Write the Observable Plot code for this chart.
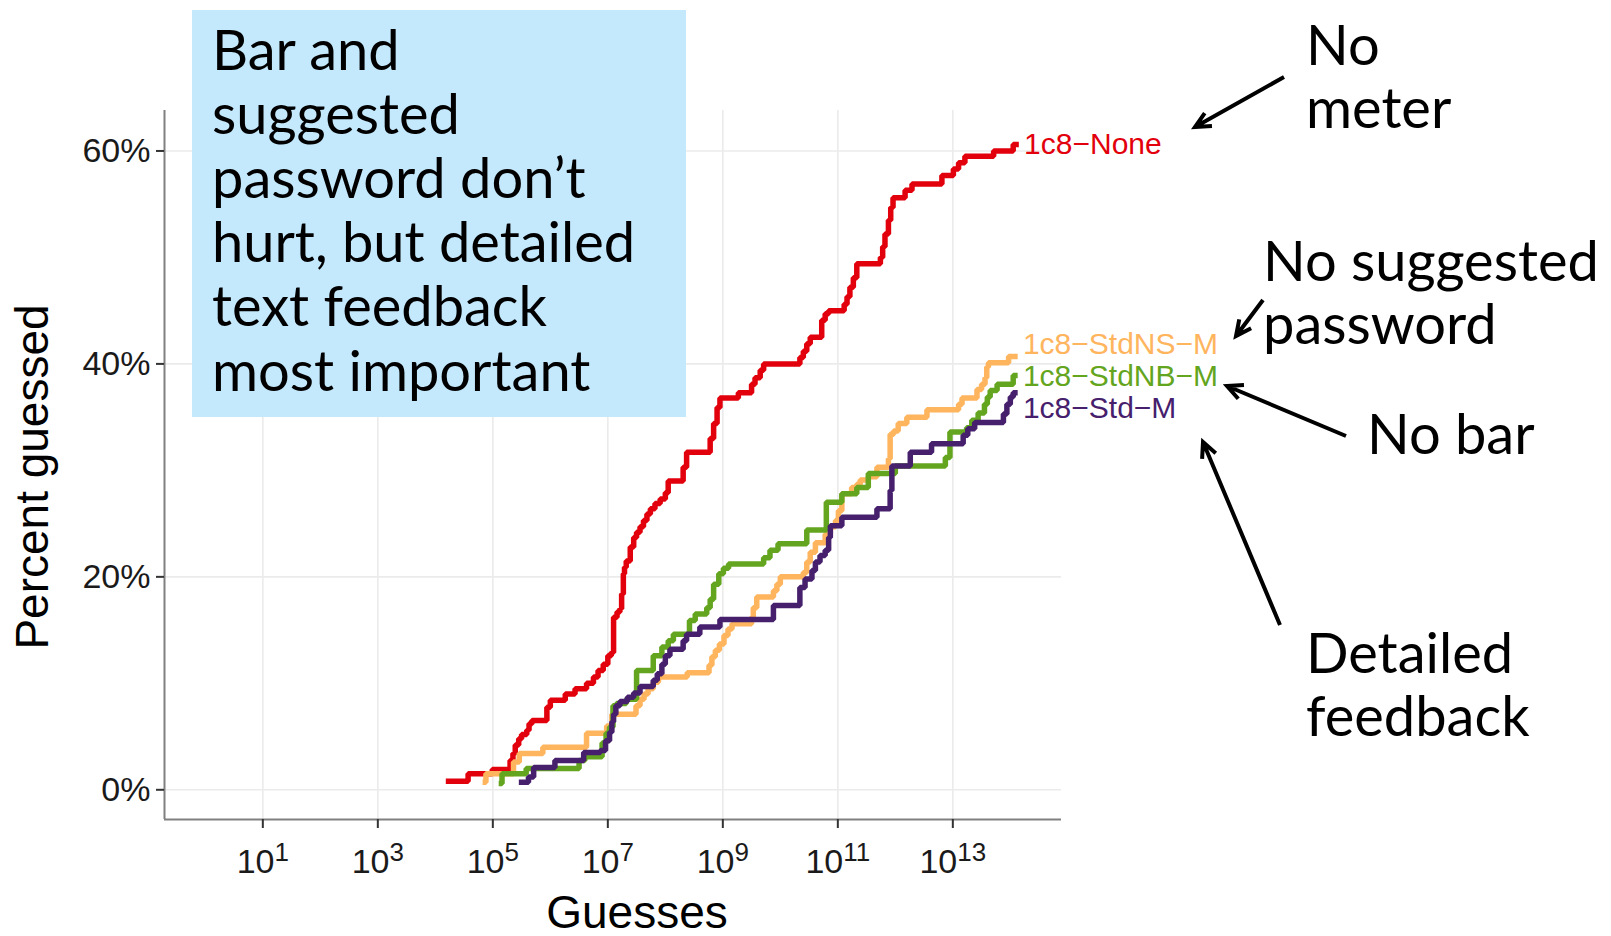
<!DOCTYPE html>
<html><head><meta charset="utf-8">
<script src="https://cdn.jsdelivr.net/npm/d3@7"></script>
<script src="https://cdn.jsdelivr.net/npm/@observablehq/plot@0.6"></script>
<style>
body{margin:0;background:#fff;}
#wrap{position:relative;width:1611px;height:936px;overflow:hidden;background:#fff;}
#chart{position:absolute;left:0;top:0;}
#over{position:absolute;left:0;top:0;pointer-events:none;}
</style></head><body>
<div id="wrap"><div id="chart"></div><svg id="over" width="1611" height="936"></svg></div>
<script>
// ---- data (x as log10 of guesses, y as percent guessed) ----
const series = ["1c8\u2212None", "1c8\u2212StdNS\u2212M", "1c8\u2212StdNB\u2212M", "1c8\u2212Std\u2212M"];
const colors = ["#e2000c", "#ffb45e", "#64a520", "#46206c"];
const labelPct = [60.6, 41.8, 38.8, 35.8];

const noneExp = [4.23,4.57,4.99,5.30,5.35,5.39,5.45,5.50,5.59,5.63,5.68,5.94,6.00,6.26,6.43,6.63,6.75,6.83,6.92,7.00,7.06,7.10,7.16,7.21,7.24,7.27,7.29,7.32,7.39,7.45,7.50,7.56,7.62,7.68,7.74,7.82,7.91,8.00,8.05,8.31,8.37,8.78,8.84,8.90,8.95,9.27,9.50,9.56,9.65,9.71,10.34,10.40,10.46,10.52,10.72,10.78,10.84,11.11,11.16,11.21,11.27,11.33,11.74,11.78,11.82,11.88,11.92,11.96,12.17,12.29,12.81,13.01,13.10,13.21,13.71,14.05,14.10];
const nonePct = [0.8,1.5,1.9,2.75,3.4,4.2,4.8,5.2,5.6,6.2,6.5,7.75,8.4,9.0,9.5,10.0,10.6,11.2,11.8,12.6,12.9,16.2,16.7,17.0,18.4,20.3,20.9,21.5,22.8,23.7,24.2,24.7,25.3,25.9,26.4,26.9,27.3,27.9,29.0,30.3,31.7,33.0,34.4,35.9,36.8,37.3,38.1,38.7,39.4,40.0,40.6,41.2,41.9,42.5,44.1,44.7,45.0,45.6,46.3,47.2,48.1,49.4,50.0,51.0,52.2,53.5,54.7,55.6,56.3,56.9,57.7,58.3,58.9,59.5,60.0,60.6,60.6];

const nsExp = [4.87,4.88,5.36,5.46,5.87,6.63,6.98,7.07,7.49,7.56,7.63,7.70,7.79,7.88,8.38,8.76,8.81,8.87,8.94,9.02,9.09,9.16,9.50,9.53,9.59,9.88,9.94,10.00,10.40,10.46,10.52,10.61,10.78,10.87,10.96,11.01,11.07,11.24,11.33,11.39,11.53,11.68,11.88,11.91,11.97,12.05,12.20,12.55,13.10,13.16,13.42,13.50,13.56,13.59,13.62,13.97,14.08];
const nsPct = [0.7,1.5,2.6,3.4,4.0,5.3,6.0,7.1,7.9,8.5,9.0,9.5,10.1,10.6,11.0,11.7,12.5,13.1,13.7,14.5,15.1,15.6,16.2,17.1,18.1,18.7,19.3,20.0,20.4,21.4,22.3,23.2,24.0,24.7,25.3,26.2,27.8,28.4,28.7,29.1,29.4,30.3,31.1,33.4,33.7,34.4,35.0,35.7,36.2,36.8,37.6,38.1,38.7,39.7,40.1,40.7,40.7];

const nbExp = [5.15,5.16,5.58,6.50,6.60,6.90,6.97,7.03,7.09,7.15,7.32,7.50,7.79,7.94,8.05,8.14,8.42,8.52,8.72,8.78,8.84,8.93,9.01,9.10,9.71,9.82,9.96,10.46,10.80,11.07,11.33,11.53,12.00,12.87,12.95,13.24,13.33,13.44,13.55,13.60,13.65,13.77,14.05,14.08];
const nbPct = [0.6,1.5,2.0,2.75,3.1,4.4,5.3,5.9,7.9,8.1,8.5,11.2,12.6,13.4,14.0,14.6,15.9,16.5,17.1,17.9,19.3,20.3,20.8,21.2,21.8,22.5,23.1,24.4,27.0,27.8,28.4,29.7,30.4,31.2,33.6,34.0,34.7,35.4,36.2,36.9,37.5,38.1,38.9,38.9];

const stdExp = [5.50,5.62,5.71,6.08,6.58,6.87,6.96,7.03,7.07,7.10,7.14,7.21,7.34,7.45,7.56,7.79,7.86,7.94,8.00,8.08,8.31,8.37,8.60,8.95,9.88,10.34,10.43,10.55,10.61,10.69,10.78,10.84,10.87,11.07,11.68,11.91,11.94,12.26,12.63,13.18,13.26,13.38,13.88,13.94,14.00,14.05,14.08];
const stdPct = [0.7,1.2,2.1,2.75,3.5,3.7,4.6,5.4,6.4,7.1,7.9,8.3,8.7,9.1,9.7,10.3,10.9,11.8,12.6,13.2,14.0,14.6,15.3,16.0,17.3,19.0,19.8,20.6,21.4,22.0,22.5,23.7,24.8,25.6,26.4,28.1,30.4,31.7,32.5,33.3,33.9,34.5,35.3,36.2,36.9,37.3,37.3];

const xTickExp = [1, 3, 5, 7, 9, 11, 13];
const yTicks = [0, 20, 40, 60];
const xDomainExp = [-0.71, 14.89];
const yDomain = [-2.79, 63.8];

const textBox = ["Bar and", "suggested", "password don\u2019t", "hurt, but detailed", "text feedback", "most important"];
const notes = [
  {lines: ["No", "meter"]},
  {lines: ["No suggested", "password"]},
  {lines: ["No bar"]},
  {lines: ["Detailed", "feedback"]}
];

// ---- build table ----
const seriesData = [[noneExp, nonePct], [nsExp, nsPct], [nbExp, nbPct], [stdExp, stdPct]];
const rows = [];
const ends = [];
seriesData.forEach(([ex, pc], i) => {
  ex.forEach((e, j) => rows.push({series: series[i], guesses: 10 ** e, pct: pc[j]}));
  ends.push({series: series[i], guesses: 10 ** ex[ex.length - 1], pct: labelPct[i]});
});

const FONT = "'Liberation Sans', Arial, Helvetica, sans-serif";
const chart = Plot.plot({
  width: 1611, height: 936,
  marginLeft: 164, marginRight: 550, marginTop: 110, marginBottom: 117,
  x: {type: "log", domain: xDomainExp.map(e => 10 ** e)},
  y: {domain: yDomain},
  color: {domain: series, range: colors},
  style: {fontFamily: FONT, background: "white", color: "#1a1a1a", overflow: "visible"},
  marks: [
    Plot.gridX(xTickExp.map(e => 10 ** e), {stroke: "#ebebeb", strokeOpacity: 1, strokeWidth: 1.6}),
    Plot.gridY(yTicks, {stroke: "#ebebeb", strokeOpacity: 1, strokeWidth: 1.6}),
    Plot.ruleX([10 ** xDomainExp[0]], {stroke: "#808080", strokeWidth: 2}),
    Plot.ruleY([yDomain[0]], {stroke: "#808080", strokeWidth: 2}),
    Plot.axisY(yTicks, {tickSize: 8, tickPadding: 6, tickFormat: d => d + "%", fontSize: 34, label: null, stroke: "#333", strokeWidth: 2, fill: "#1a1a1a"}),
    Plot.axisX(xTickExp.map(e => 10 ** e), {tickSize: 9, tickPadding: 20, tickFormat: d => "10^" + Math.round(Math.log10(d)), fontSize: 34, label: null, stroke: "#333", strokeWidth: 2, fill: "#1a1a1a"}),
    Plot.line(rows, {x: "guesses", y: "pct", z: "series", stroke: "series", curve: "step-after", strokeWidth: 5.5, strokeLinejoin: "miter", strokeLinecap: "square"}),
    Plot.text(ends, {x: "guesses", y: "pct", text: "series", fill: "series", textAnchor: "start", dx: 8, fontSize: 30}),
    Plot.text(["Guesses"], {frameAnchor: "bottom", text: d => d, textAnchor: "middle", dx: 24, dy: 108, fontSize: 46, fill: "#000"}),
    Plot.text(["Percent guessed"], {frameAnchor: "left", text: d => d, textAnchor: "middle", rotate: -90, dx: -131, dy: 12, fontSize: 46, fill: "#000"})
  ]
});
document.getElementById("chart").append(chart);

// superscript exponents on the x tick labels
const NS = "http://www.w3.org/2000/svg";
chart.querySelectorAll('[aria-label="x-axis tick label"] text').forEach(t => {
  const [b, e] = t.textContent.split("^");
  t.textContent = "";
  const t1 = document.createElementNS(NS, "tspan"); t1.textContent = b;
  const t2 = document.createElementNS(NS, "tspan"); t2.textContent = e;
  t2.setAttribute("dy", "-12"); t2.setAttribute("font-size", "26");
  t.append(t1, t2);
});

// ---- annotation overlay ----
const over = d3.select("#over");
over.append("rect").attr("x", 192).attr("y", 10).attr("width", 494).attr("height", 407).attr("fill", "#c4e9fc");
const ANN = "Lato, 'Open Sans', sans-serif";
const boxT = over.append("text").attr("font-family", ANN).attr("font-size", 56).attr("fill", "#000");
textBox.forEach((s, i) => boxT.append("tspan").attr("x", 212).attr("y", 70 + i * 64.1).text(s));
const notePos = [[1306, 65], [1263, 281], [1367, 454], [1306, 673]];
notes.forEach((n, k) => {
  const t = over.append("text").attr("font-family", ANN).attr("font-size", 56).attr("fill", "#000");
  n.lines.forEach((s, i) => t.append("tspan").attr("x", notePos[k][0]).attr("y", notePos[k][1] + i * 63.3).text(s));
});
const arrows = [[1284, 77, 1195, 127], [1263, 300, 1236, 336], [1346, 436, 1227, 386], [1280, 625, 1203, 442]];
arrows.forEach(([x1, y1, x2, y2]) => {
  const a = Math.atan2(y2 - y1, x2 - x1), L = 17, w = 0.45;
  const p = d3.path();
  p.moveTo(x1, y1); p.lineTo(x2, y2);
  p.moveTo(x2 - L * Math.cos(a - w), y2 - L * Math.sin(a - w)); p.lineTo(x2, y2);
  p.lineTo(x2 - L * Math.cos(a + w), y2 - L * Math.sin(a + w));
  over.append("path").attr("d", p.toString()).attr("fill", "none").attr("stroke", "#000").attr("stroke-width", 4).attr("stroke-linejoin", "miter");
});
</script>
</body></html>
